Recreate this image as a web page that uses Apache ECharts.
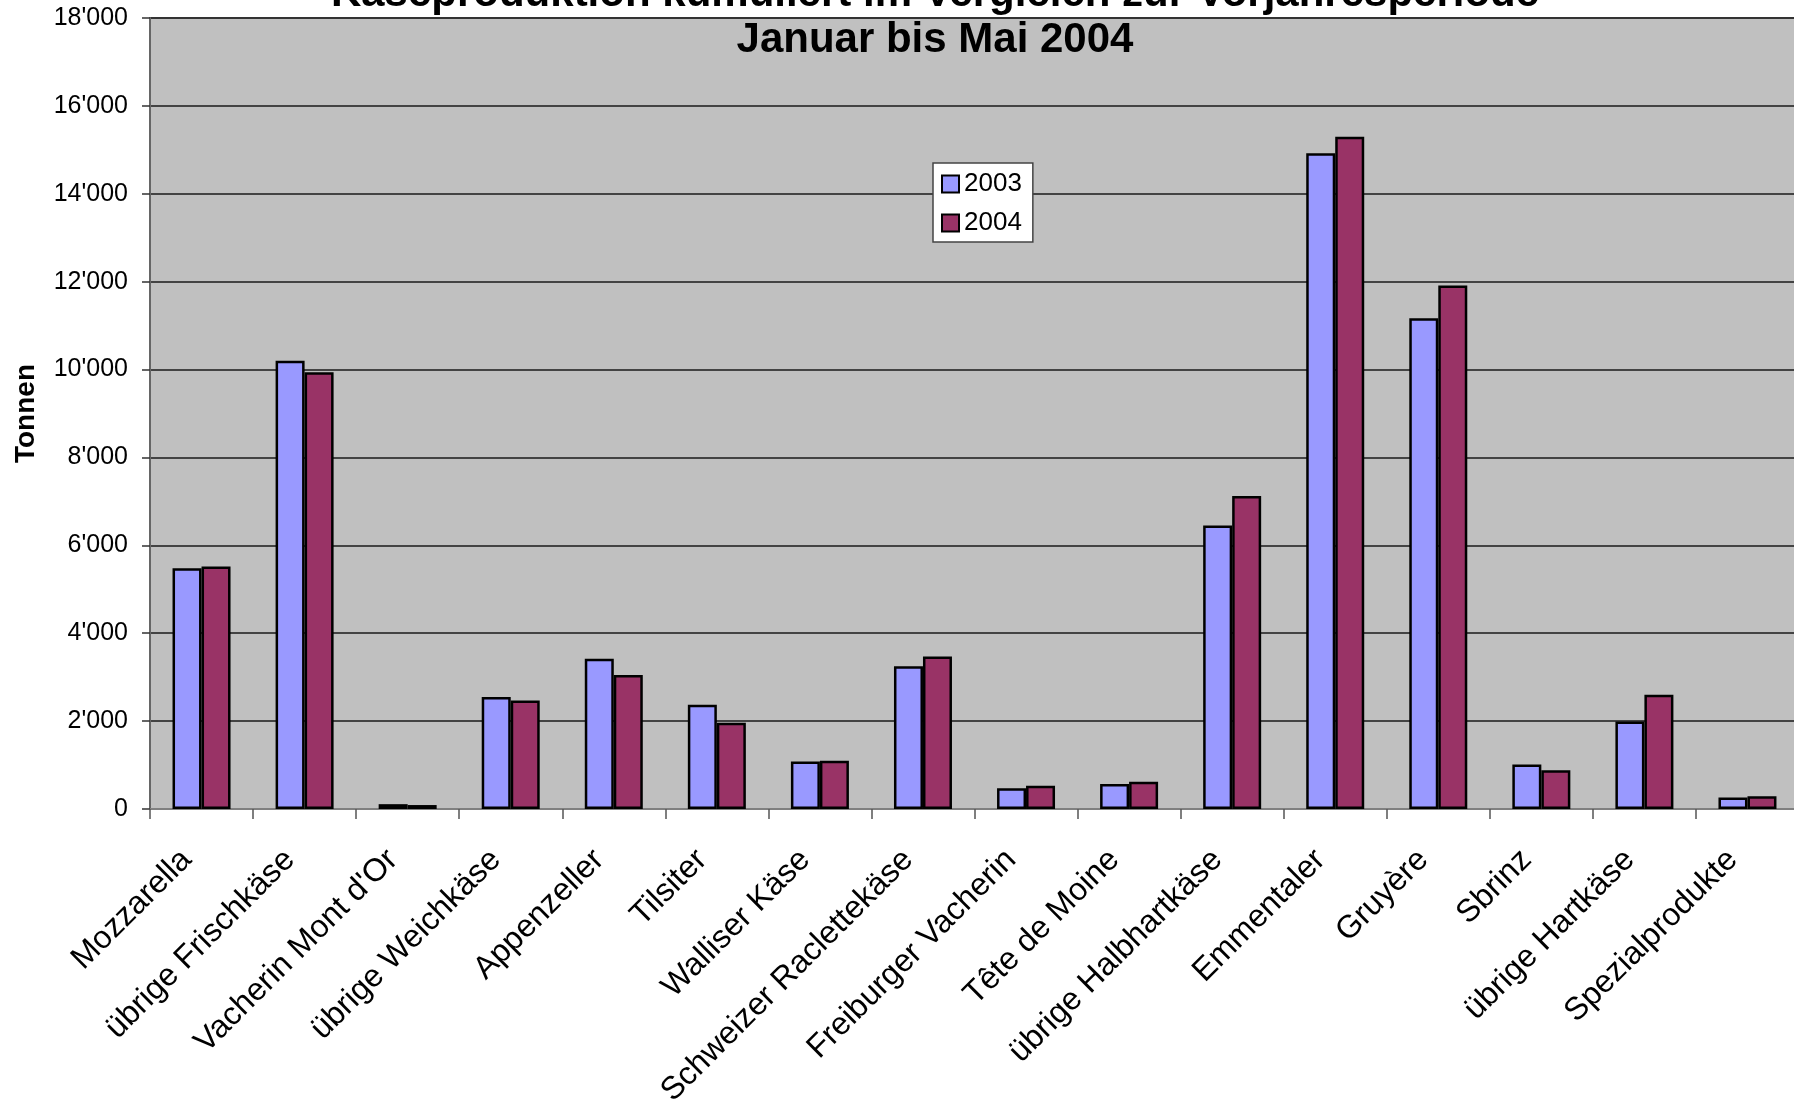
<!DOCTYPE html>
<html>
<head>
<meta charset="utf-8">
<script src="https://cdn.jsdelivr.net/npm/echarts@6/dist/echarts.min.js"></script>
<style>
html,body{margin:0;padding:0;background:#fff;}
#chart{width:1794px;height:1104px;}
</style>
</head>
<body>
<div id="chart"></div>
<script>
var categories = ['Mozzarella', 'übrige Frischkäse', "Vacherin Mont d'Or", 'übrige Weichkäse', 'Appenzeller', 'Tilsiter', 'Walliser Käse', 'Schweizer Raclettekäse', 'Freiburger Vacherin', 'Tête de Moine', 'übrige Halbhartkäse', 'Emmentaler', 'Gruyère', 'Sbrinz', 'übrige Hartkäse', 'Spezialprodukte'];
var values2003 = [5480, 10200, 110, 2550, 3420, 2370, 1080, 3250, 470, 570, 6450, 14920, 11170, 1010, 1990, 260];
var values2004 = [5520, 9940, 90, 2470, 3050, 1960, 1100, 3470, 530, 620, 7120, 15300, 11910, 880, 2600, 290];
var seriesNames = ['2003', '2004'];
var titleLines = ['Käseproduktion kumuliert im Vergleich zur Vorjahresperiode', 'Januar bis Mai 2004'];
var yAxisName = 'Tonnen';

var FONT = '"Liberation Sans", Arial, Helvetica, sans-serif';
var chart = echarts.init(document.getElementById('chart'), null, {renderer: 'canvas'});

function fmt(v) {
  var s = String(Math.round(v));
  return s.replace(/\B(?=(\d{3})+(?!\d))/g, "'");
}

var option = {
  animation: false,
  backgroundColor: '#ffffff',
  textStyle: {fontFamily: FONT},
  graphic: [
    {type: 'text', x: 935, y: -6, z: 100, style: {text: titleLines[0], font: 'bold 42px ' + FONT, fill: '#000', align: 'center', verticalAlign: 'middle'}},
    {type: 'text', x: 935, y: 40, z: 100, style: {text: titleLines[1], font: 'bold 42px ' + FONT, fill: '#000', align: 'center', verticalAlign: 'middle'}}
  ],
  legend: {
    orient: 'vertical',
    left: 933,
    top: 163,
    backgroundColor: '#ffffff',
    borderColor: '#444',
    borderWidth: 1.5,
    borderRadius: 0,
    padding: [8, 11, 6, 8],
    itemWidth: 17,
    itemHeight: 17,
    itemGap: 13,
    icon: 'rect',
    itemStyle: {borderColor: '#000', borderWidth: 2},
    textStyle: {fontSize: 26, color: '#000', fontFamily: FONT},
    data: seriesNames
  },
  grid: {
    left: 150, top: 18, width: 1649, height: 791,
    show: true, backgroundColor: '#C0C0C0', borderColor: '#808080', borderWidth: 2,
    containLabel: false,
    outerBoundsMode: 'none'
  },
  xAxis: {
    type: 'category',
    data: categories,
    boundaryGap: true,
    axisLine: {show: true, lineStyle: {color: '#808080', width: 2}},
    axisTick: {show: true, length: 10, alignWithLabel: false, lineStyle: {color: '#555', width: 1.5}},
    axisLabel: {
      interval: 0, rotate: 45, margin: 31, fontSize: 32, color: '#000', fontFamily: FONT,
      padding: [0, 21, 0, 0], hideOverlap: false
    },
    splitLine: {show: false}
  },
  yAxis: {
    type: 'value',
    min: 0, max: 18000, interval: 2000,
    name: yAxisName,
    nameLocation: 'middle',
    nameGap: 110,
    nameRotate: 90,
    nameTextStyle: {fontSize: 28, fontWeight: 'bold', color: '#000', fontFamily: FONT},
    axisLine: {show: true, lineStyle: {color: '#666', width: 2}},
    axisTick: {show: true, inside: false, length: 8, lineStyle: {color: '#333', width: 1.5}},
    axisLabel: {margin: 22, fontSize: 25, color: '#000', fontFamily: FONT, formatter: fmt},
    splitLine: {show: true, lineStyle: {color: '#1a1a1a', width: 1.5}}
  },
  series: [
    {
      name: seriesNames[0], type: 'bar', data: values2003,
      barWidth: 29, barGap: '0%',
      itemStyle: {color: '#9999FF', borderColor: '#000', borderWidth: 2.5}
    },
    {
      name: seriesNames[1], type: 'bar', data: values2004,
      barWidth: 29, barGap: '0%',
      itemStyle: {color: '#993366', borderColor: '#000', borderWidth: 2.5}
    }
  ]
};
chart.setOption(option);
</script>
</body>
</html>
